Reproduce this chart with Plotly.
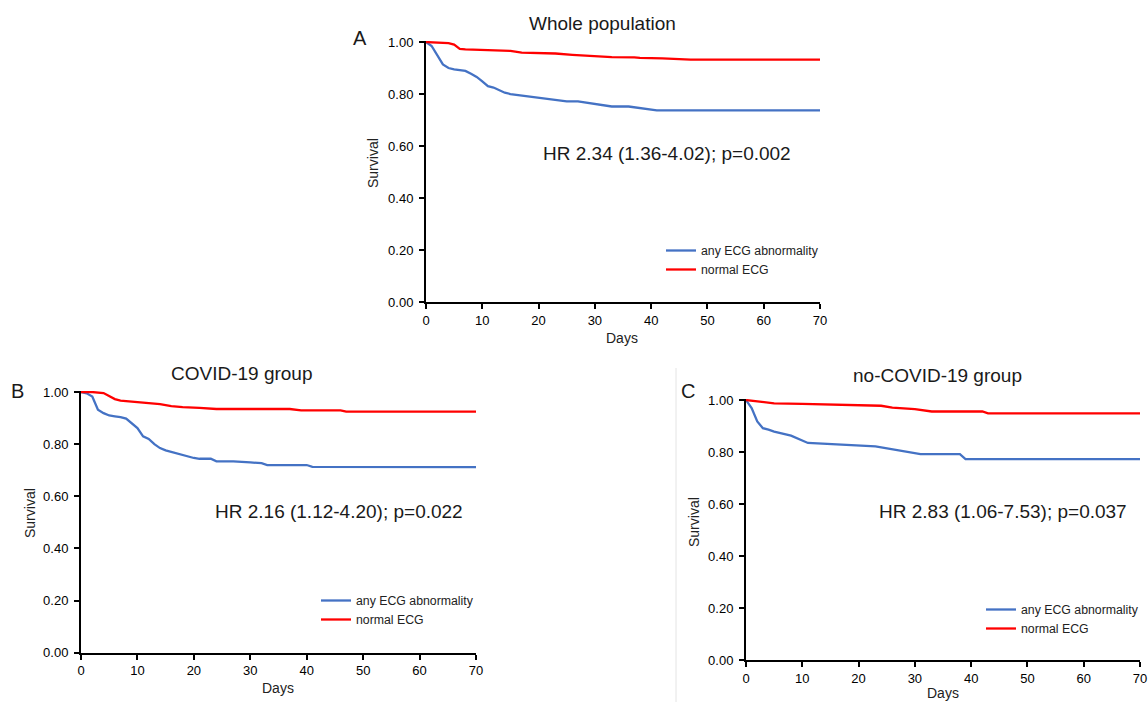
import plotly.graph_objects as go

W, H = 1148, 702
FONT = "Arial, Liberation Sans, sans-serif"
BLUE = "#4472C4"
RED = "#FF0000"

# ---------------- data ----------------
# Panel A: whole population
a_blue_days = [0, 1, 3, 4, 5, 6, 7, 8, 9, 10, 11, 12, 13, 14, 15, 17, 20, 25, 27, 30, 33, 36, 39, 41, 70]
a_blue_surv = [1.00, 0.985, 0.914, 0.900, 0.895, 0.892, 0.889, 0.878, 0.866, 0.849, 0.830, 0.825, 0.814,
               0.805, 0.800, 0.794, 0.785, 0.772, 0.772, 0.763, 0.752, 0.752, 0.744, 0.737, 0.737]
a_red_days = [0, 4, 5, 6, 7, 10, 15, 17, 20, 23, 26, 30, 33, 37, 38, 42, 44, 47, 70]
a_red_surv = [1.00, 0.996, 0.990, 0.974, 0.972, 0.969, 0.966, 0.959, 0.958, 0.956, 0.951, 0.947,
              0.942, 0.941, 0.939, 0.937, 0.935, 0.932, 0.932]

# Panel B: COVID-19 group
b_blue_days = [0, 1, 2, 3, 4, 5, 6, 7, 8, 9, 10, 11, 12, 13, 14, 15, 16, 18, 19, 20, 21, 23, 24, 27,
               30, 32, 33, 40, 41, 70]
b_blue_surv = [1.00, 0.995, 0.983, 0.932, 0.919, 0.910, 0.907, 0.904, 0.898, 0.881, 0.862, 0.830, 0.820,
               0.800, 0.785, 0.776, 0.770, 0.759, 0.753, 0.747, 0.744, 0.744, 0.734, 0.734, 0.730,
               0.727, 0.720, 0.720, 0.713, 0.712]
b_red_days = [0, 2, 4, 5, 6, 7, 9, 12, 14, 16, 18, 21, 24, 37, 39, 46, 47, 70]
b_red_surv = [1.00, 1.00, 0.996, 0.986, 0.973, 0.967, 0.963, 0.959, 0.954, 0.946, 0.942, 0.939, 0.935,
              0.935, 0.930, 0.930, 0.925, 0.925]

# Panel C: no-COVID-19 group
c_blue_days = [0, 1, 2, 3, 4, 5, 8, 9, 11, 23, 26, 31, 38, 39, 70]
c_blue_surv = [1.00, 0.969, 0.918, 0.892, 0.886, 0.879, 0.863, 0.854, 0.835, 0.822, 0.810, 0.792,
               0.792, 0.773, 0.773]
c_red_days = [0, 2, 5, 10, 24, 26, 30, 33, 42, 43, 70]
c_red_surv = [1.00, 0.994, 0.987, 0.985, 0.978, 0.971, 0.965, 0.956, 0.956, 0.949, 0.949]

series_names = ["any ECG abnormality", "normal ECG"]
panel_titles = ["Whole population", "COVID-19 group", "no-COVID-19 group"]
panel_letters = ["A", "B", "C"]
hr_texts = ["HR 2.34 (1.36-4.02); p=0.002",
            "HR 2.16 (1.12-4.20); p=0.022",
            "HR 2.83 (1.06-7.53); p=0.037"]
x_ticks = [0, 10, 20, 30, 40, 50, 60, 70]
y_ticks = [0.0, 0.2, 0.4, 0.6, 0.8, 1.0]

# ---------------- layout helpers ----------------
def px(x, y):
    return x / W, 1 - y / H

# plot-area pixel boxes: (left, right, top, bottom)
boxes = [(426, 820, 41, 302), (81, 476, 391, 652.7), (746, 1140, 399, 660.3)]

fig = go.Figure()

panels = [
    (a_blue_days, a_blue_surv, a_red_days, a_red_surv),
    (b_blue_days, b_blue_surv, b_red_days, b_red_surv),
    (c_blue_days, c_blue_surv, c_red_days, c_red_surv),
]
legend_names = ["legend", "legend2", "legend3"]
for i, (bd, bs, rd, rs) in enumerate(panels):
    xa = "x" if i == 0 else f"x{i+1}"
    ya = "y" if i == 0 else f"y{i+1}"
    fig.add_trace(go.Scatter(x=bd, y=bs, mode="lines", name=series_names[0],
                             line=dict(color=BLUE, width=2.3), xaxis=xa, yaxis=ya,
                             legend=legend_names[i], hoverinfo="skip"))
    fig.add_trace(go.Scatter(x=rd, y=rs, mode="lines", name=series_names[1],
                             line=dict(color=RED, width=2.3), xaxis=xa, yaxis=ya,
                             legend=legend_names[i], hoverinfo="skip"))

axis_common = dict(showgrid=False, zeroline=False, showline=True, linecolor="black", linewidth=2,
                   ticks="outside", ticklen=5, tickwidth=1.5, tickcolor="black",
                   tickfont=dict(family=FONT, size=13, color="black"), fixedrange=True,
                   automargin=False)

layout = dict(width=W, height=H, margin=dict(l=0, r=0, t=0, b=0, autoexpand=False),
              paper_bgcolor="white", plot_bgcolor="white", showlegend=True)

for i, (l, r, t, b) in enumerate(boxes):
    xk = "xaxis" if i == 0 else f"xaxis{i+1}"
    yk = "yaxis" if i == 0 else f"yaxis{i+1}"
    xa = "x" if i == 0 else f"x{i+1}"
    ya = "y" if i == 0 else f"y{i+1}"
    layout[xk] = dict(axis_common, domain=[l / W, r / W], range=[0, 70], tickvals=x_ticks,
                      anchor=ya)
    layout[yk] = dict(axis_common, domain=[1 - b / H, 1 - t / H], range=[0, 1.004],
                      tickvals=y_ticks, tickformat=".2f", anchor=xa, ticklabelstandoff=3)

fig.update_layout(**layout)

# legends
legend_pos = [(661, 236), (316, 586), (981, 595)]
for name, (lx, ly) in zip(legend_names, legend_pos):
    x, y = px(lx, ly)
    fig.update_layout({name: dict(x=x, y=y, xanchor="left", yanchor="top",
                                  bgcolor="rgba(0,0,0,0)", tracegroupgap=0,
                                  font=dict(family=FONT, size=12.3, color="#222"))})

ann = []
title_pos = [(602, 24), (242, 374), (938, 375)]
letter_pos = [(360, 38), (17, 391), (688, 391)]
surv_pos = [(373, 163), (30, 513), (694, 522)]
days_pos = [(622, 338), (278, 688), (943, 693)]
hr_pos = [(20.4, 0.572), (23.4, 0.541), (23.2, 0.571)]

for i in range(3):
    x, y = px(*title_pos[i])
    ann.append(dict(text=panel_titles[i], x=x, y=y, xref="paper", yref="paper",
                    xanchor="center", yanchor="middle", showarrow=False,
                    font=dict(family=FONT, size=19, color="#1a1a1a")))
    x, y = px(*letter_pos[i])
    ann.append(dict(text=panel_letters[i], x=x, y=y, xref="paper", yref="paper",
                    xanchor="center", yanchor="middle", showarrow=False,
                    font=dict(family=FONT, size=20, color="#1a1a1a")))
    x, y = px(*surv_pos[i])
    ann.append(dict(text="Survival", x=x, y=y, xref="paper", yref="paper", textangle=-90,
                    xanchor="center", yanchor="middle", showarrow=False,
                    font=dict(family=FONT, size=14, color="#222")))
    x, y = px(*days_pos[i])
    ann.append(dict(text="Days", x=x, y=y, xref="paper", yref="paper",
                    xanchor="center", yanchor="middle", showarrow=False,
                    font=dict(family=FONT, size=14, color="#222")))
    xa = "x" if i == 0 else f"x{i+1}"
    ya = "y" if i == 0 else f"y{i+1}"
    ann.append(dict(text=hr_texts[i], x=hr_pos[i][0], y=hr_pos[i][1], xref=xa, yref=ya,
                    xanchor="left", yanchor="middle", showarrow=False,
                    font=dict(family=FONT, size=19, color="#1a1a1a")))

fig.update_layout(annotations=ann)

# faint border line seen in the reference to the left of panel C
x0, y0 = px(676, 368)
x1, y1 = px(676, 702)
fig.add_shape(type="line", xref="paper", yref="paper", x0=x0, x1=x1, y0=y0, y1=y1,
              line=dict(color="#e4e4e4", width=1))

# the page body must not add its default 8px margin around the figure
fig.write_html("out.html", config={"displayModeBar": False},
               post_script="document.body.style.margin='0';document.body.style.overflow='hidden';")
